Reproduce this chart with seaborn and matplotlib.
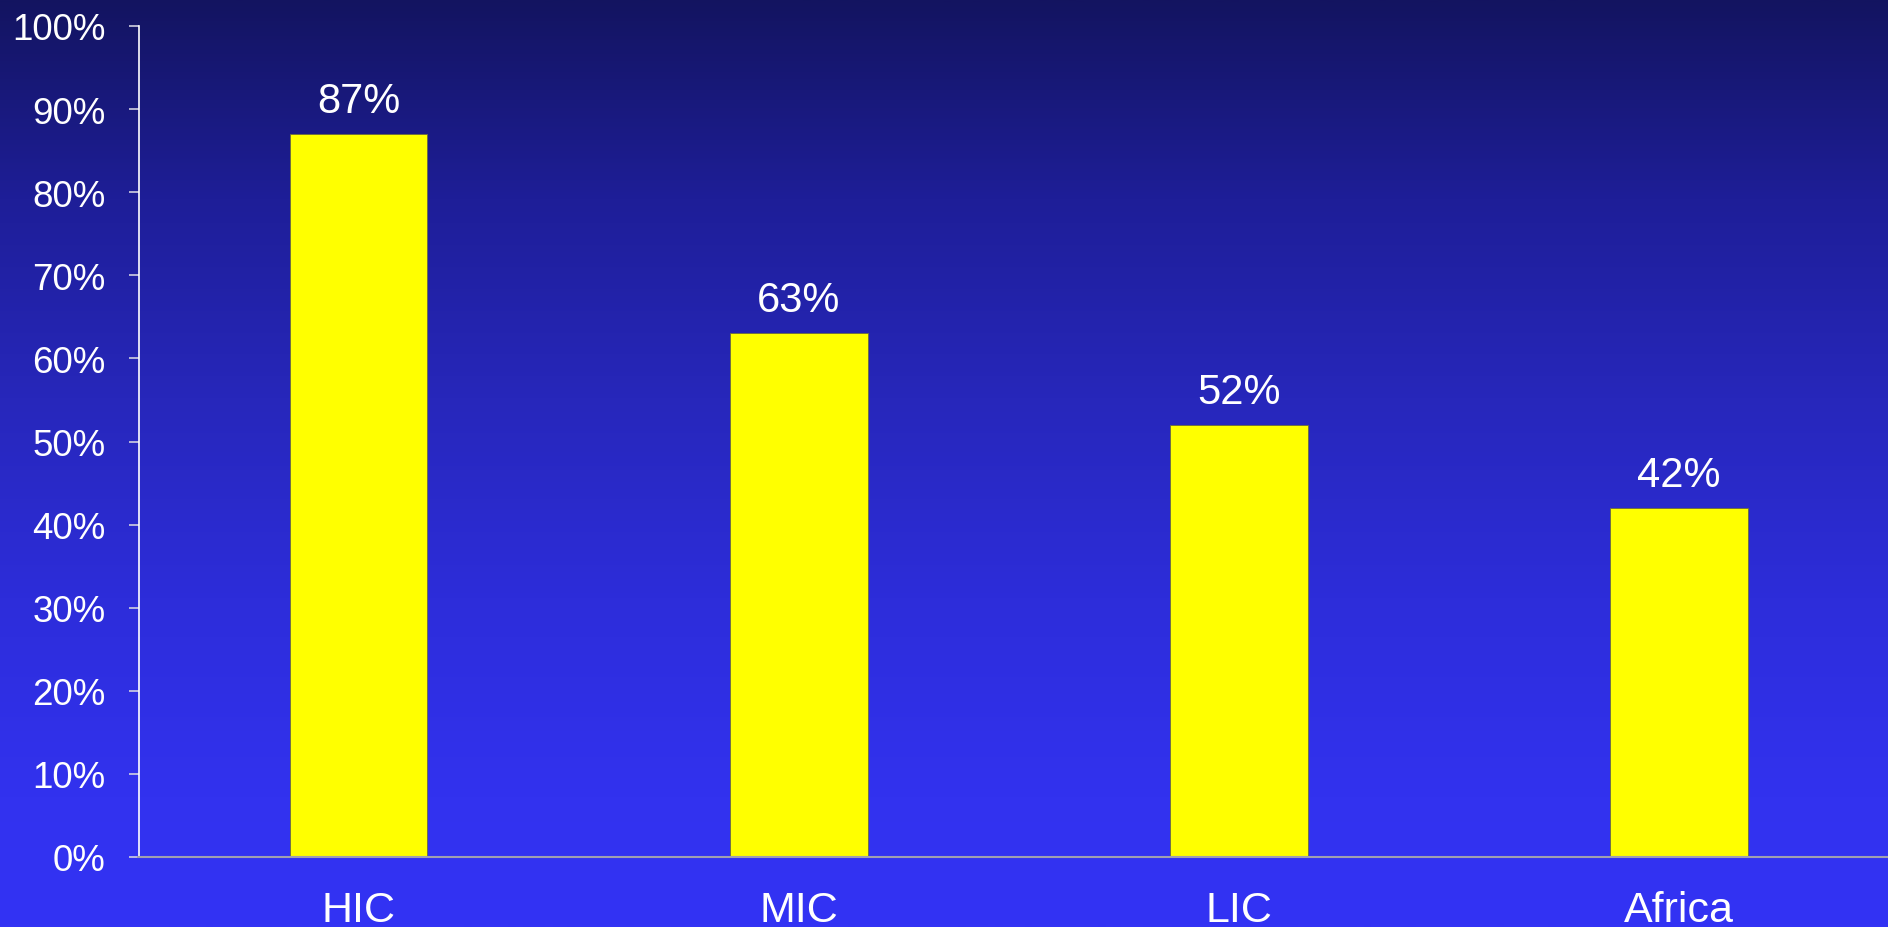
import numpy as np
import pandas as pd
import matplotlib
matplotlib.use("Agg")
import matplotlib.pyplot as plt
import seaborn as sns
from matplotlib.colors import LinearSegmentedColormap

categories = ["HIC", "MIC", "LIC", "Africa"]
values = [87, 63, 52, 42]
yticks = [0, 10, 20, 30, 40, 50, 60, 70, 80, 90, 100]
ytick_labels = [f"{t}%" for t in yticks]

sns.set_theme(style="white")
plt.rcParams['font.family'] = ['Liberation Sans', 'DejaVu Sans']

W, H = 1888, 928
fig = plt.figure(figsize=(W / 100, H / 100), dpi=100)

# background gradient
bg = fig.add_axes([0, 0, 1, 1], zorder=0)
stops = [(0.0, "#131460"), (200 / 928, "#1e1e98"), (400 / 928, "#2727bb"),
         (600 / 928, "#2d2dda"), (800 / 928, "#3232ef"), (1.0, "#3333f4")]
cmap = LinearSegmentedColormap.from_list("bgg", stops)
grad = np.linspace(0, 1, 512).reshape(-1, 1)
bg.imshow(grad, aspect="auto", cmap=cmap, extent=[0, 1, 1, 0])
bg.set_axis_off()

left = 138.5 / W
right = 1899 / W
bottom = 1 - 858 / H
top = 1 - 27 / H
ax = fig.add_axes([left, bottom, right - left, top - bottom], zorder=1)
ax.patch.set_alpha(0)

df = pd.DataFrame({"cat": categories, "val": values})
sns.barplot(data=df, x="cat", y="val", ax=ax, color="#ffff00", width=0.313,
            saturation=1, edgecolor="#6a6a40", linewidth=0.6)

ax.set_xlim(-0.5, 3.5)
ax.set_ylim(0, 100)
ax.set_yticks(yticks)
ax.set_yticklabels(ytick_labels)
ax.set_xlabel("")
ax.set_ylabel("")

for i, v in enumerate(values):
    ax.text(i, v + 2.65, f"{v}%", ha="center", va="baseline", color="white", fontsize=30)

for s in ["top", "right"]:
    ax.spines[s].set_visible(False)
ax.spines["left"].set_color("white")
ax.spines["left"].set_linewidth(1.2)
ax.spines["bottom"].set_color("#a0a0b0")
ax.spines["bottom"].set_linewidth(1.5)

ax.tick_params(axis="y", direction="out", length=7.5, width=1.2, color="#d0d0e0",
               labelcolor="white", labelsize=26.5, pad=16, left=True)
ax.tick_params(axis="x", length=0, labelcolor="white", labelsize=31, pad=24)

fig.savefig("out.png", dpi=100)
